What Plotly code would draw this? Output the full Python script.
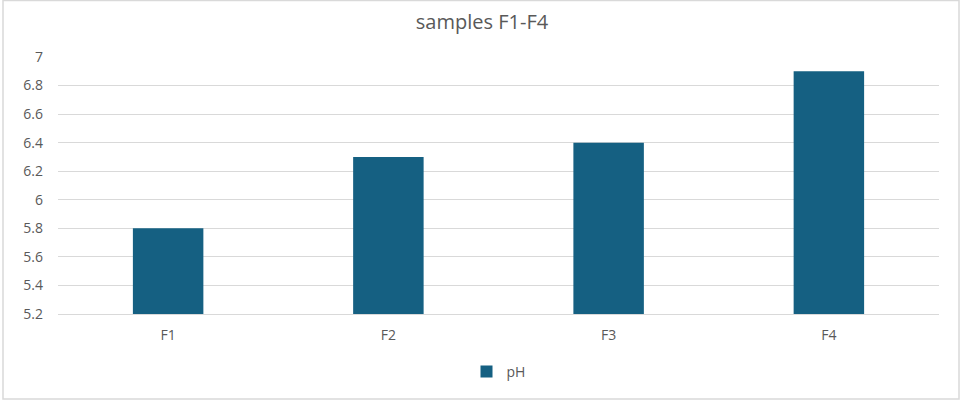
import plotly.graph_objects as go

categories = ["F1", "F2", "F3", "F4"]
ph_values = [5.8, 6.3, 6.4, 6.9]
y_ticks = [5.2, 5.4, 5.6, 5.8, 6, 6.2, 6.4, 6.6, 6.8, 7]
y_tick_labels = ["5.2", "5.4", "5.6", "5.8", "6", "6.2", "6.4", "6.6", "6.8", "7"]
y_base = 5.2

W, H = 964, 405
L, R, T, B = 58, 964 - 939, 57, 405 - 314
pw, ph = W - L - R, H - T - B

def px_x(px):
    return (px - L) / pw

def px_y(py):
    return (H - B - py) / ph

fig = go.Figure()
fig.add_trace(go.Bar(
    x=categories, y=[v - y_base for v in ph_values], base=y_base, name="pH",
    customdata=ph_values,
    hovertemplate="%{x}: %{customdata}<extra></extra>",
    marker=dict(color="#156082", line=dict(width=0)),
))

fig.update_layout(
    width=W, height=H,
    margin=dict(l=L, r=R, t=T, b=B),
    paper_bgcolor="white", plot_bgcolor="white",
    title=dict(text="samples F1-F4", x=0.5, xanchor="center", y=1 - 22 / H, yanchor="middle",
               font=dict(family="Open Sans, Liberation Sans, sans-serif", size=20, color="#595959")),
    font=dict(family="Open Sans, Liberation Sans, sans-serif", size=14, color="#595959"),
    bargap=0.68,
    showlegend=True,
    legend=dict(orientation="h", x=0.5, xanchor="center", y=px_y(372), yanchor="middle",
                itemwidth=30, font=dict(size=14, color="#595959")),
    xaxis=dict(showgrid=False, showline=True, linecolor="#d9d9d9", linewidth=1,
               ticks="", ticklabelstandoff=8, zeroline=False),
    yaxis=dict(range=[5.2, 7], tickvals=y_ticks, ticktext=y_tick_labels,
               showgrid=True, gridcolor="#d9d9d9", gridwidth=1, showline=False,
               zeroline=False, ticks="", ticklabelstandoff=14),
    shapes=[dict(type="rect", xref="paper", yref="paper",
                 x0=px_x(3), x1=px_x(959), y0=px_y(399), y1=px_y(0.5),
                 line=dict(color="#d9d9d9", width=1.5), fillcolor="rgba(0,0,0,0)", layer="below")],
)

fig.write_html("out.html", config={"displayModeBar": False})

with open("out.html", "r", encoding="utf-8") as f:
    html = f.read()
html = html.replace("<head>", "<head><style>html,body{margin:0;padding:0;overflow:hidden;}</style>", 1)
with open("out.html", "w", encoding="utf-8") as f:
    f.write(html)
